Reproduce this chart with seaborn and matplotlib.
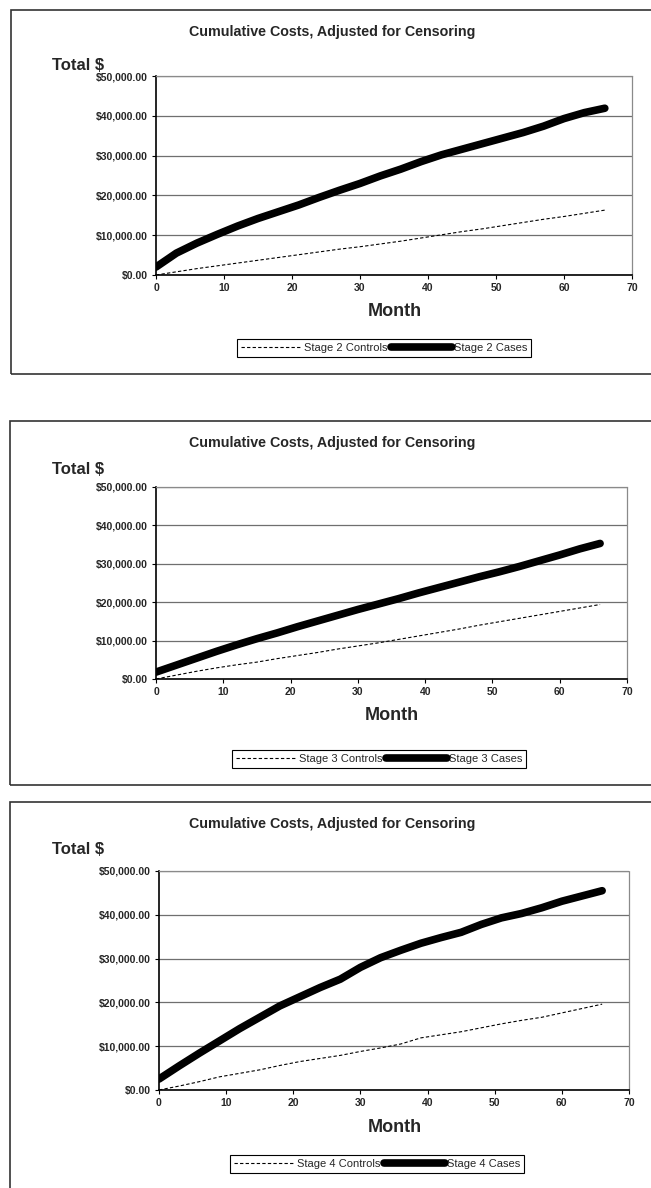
import numpy as np
import pandas as pd
import seaborn as sns
import matplotlib.pyplot as plt
from matplotlib.patches import Rectangle
from matplotlib.ticker import FuncFormatter, MultipleLocator

# values, every 3 months
months = [0, 3, 6, 9, 12, 15, 18, 21, 24, 27, 30, 33, 36, 39, 42, 45, 48, 51, 54, 57, 60, 63, 66]

stage2_cases = [2000, 5500, 8000, 10200, 12300, 14200, 15900, 17600, 19500, 21300, 23000, 24900,
                26600, 28500, 30200, 31600, 33000, 34400, 35800, 37400, 39300, 40800, 41900]
stage2_controls = [0, 800, 1600, 2300, 3000, 3700, 4400, 5100, 5800, 6500, 7100, 7800,
                   8500, 9300, 10100, 10900, 11600, 12400, 13200, 14000, 14700, 15500, 16300]

stage3_cases = [1800, 3600, 5400, 7200, 8900, 10500, 12000, 13600, 15100, 16600, 18100, 19500,
                20900, 22400, 23800, 25200, 26600, 27900, 29300, 30800, 32300, 33900, 35300]
stage3_controls = [0, 1000, 2000, 2900, 3700, 4400, 5300, 6100, 6900, 7800, 8600, 9400,
                   10300, 11200, 12100, 13000, 14000, 14900, 15800, 16700, 17600, 18500, 19400]

stage4_cases = [2500, 5500, 8400, 11200, 14000, 16600, 19200, 21300, 23400, 25300, 28000, 30200,
                31900, 33500, 34800, 36000, 37800, 39300, 40300, 41600, 43100, 44300, 45500]
stage4_controls = [0, 900, 1900, 3000, 3800, 4600, 5600, 6500, 7200, 7900, 8800, 9600,
                   10500, 11900, 12600, 13300, 14200, 15100, 15900, 16600, 17600, 18600, 19600]

stages = ["Stage 2", "Stage 3", "Stage 4"]
cases = [stage2_cases, stage3_cases, stage4_cases]
controls = [stage2_controls, stage3_controls, stage4_controls]

title = "Cumulative Costs, Adjusted for Censoring"

sns.set_style("white")
plt.rcParams["font.family"] = ["Liberation Sans", "DejaVu Sans"]

W, H = 651, 1188
fig = plt.figure(figsize=(W / 100, H / 100), dpi=100)


def fx(px):
    return px / W


def fy(py):
    return 1 - py / H


# pixel layout of each panel: outer box, axes, title, y label, x label, legend
layout = [
    dict(box=(11, 10, 374), ax=(156, 632, 76, 275), title=32, ylab=65, xlab=(395, 312), leg=(384, 348)),
    dict(box=(10, 421, 785), ax=(156, 627, 487, 679), title=443, ylab=469, xlab=(392, 715), leg=(379, 759)),
    dict(box=(10, 802, 1260), ax=(159, 629, 871, 1090), title=824, ylab=850, xlab=(395, 1128), leg=(377, 1164)),
]

for stage, cs, ct, lay in zip(stages, cases, controls, layout):
    bx, btop, bbot = lay["box"]
    fig.patches.append(Rectangle((fx(bx), fy(bbot)), fx(700 - bx), (bbot - btop) / H,
                                 transform=fig.transFigure, fill=False, edgecolor="#333333",
                                 linewidth=1.2, zorder=0))

    l, r, t, b = lay["ax"]
    ax = fig.add_axes([fx(l), fy(b), (r - l) / W, (b - t) / H])

    df = pd.DataFrame({"Month": months, "Controls": ct, "Cases": cs})
    sns.lineplot(data=df, x="Month", y="Controls", ax=ax, color="black", linewidth=0.8,
                 linestyle=(0, (3, 2)), label=f"{stage} Controls")
    sns.lineplot(data=df, x="Month", y="Cases", ax=ax, color="black", linewidth=5.5,
                 solid_capstyle="round", label=f"{stage} Cases")

    ax.set_xlim(0, 70)
    ax.set_ylim(0, 50000)
    ax.xaxis.set_major_locator(MultipleLocator(10))
    ax.yaxis.set_major_locator(MultipleLocator(10000))
    ax.yaxis.set_major_formatter(FuncFormatter(lambda v, p: f"${v:,.2f}"))
    ax.grid(axis="y", color="#6f6f6f", linewidth=0.9)
    ax.set_axisbelow(True)
    for side in ["top", "right"]:
        ax.spines[side].set_color("#8a8a8a")
        ax.spines[side].set_linestyle((0, (1, 1)))
        ax.spines[side].set_linewidth(0.9)
    for side in ["left", "bottom"]:
        ax.spines[side].set_color("black")
        ax.spines[side].set_linewidth(1.2)
    ax.tick_params(axis="both", direction="out", length=3, width=0.8, color="black",
                   labelsize=7.5, pad=3, left=True, bottom=True)
    for lab in ax.get_xticklabels() + ax.get_yticklabels():
        lab.set_fontweight("bold")
    ax.set_xlabel("")
    ax.set_ylabel("")

    fig.text(fx(332), fy(lay["title"]), title, ha="center", va="center",
             fontsize=10.3, fontweight="bold")
    fig.text(fx(52), fy(lay["ylab"]), "Total $", ha="left", va="center",
             fontsize=12, fontweight="bold")
    mx, my = lay["xlab"]
    fig.text(fx(mx), fy(my), "Month", ha="center", va="center",
             fontsize=13, fontweight="bold")

    lgx, lgy = lay["leg"]
    ax.legend(loc="center", bbox_to_anchor=(fx(lgx), fy(lgy)), bbox_transform=fig.transFigure,
              ncol=2, fontsize=8, frameon=True, fancybox=False, edgecolor="black",
              framealpha=1, handlelength=5.5, handletextpad=0.2, columnspacing=0.3,
              borderpad=0.35, borderaxespad=0)
    ax.get_legend().get_frame().set_linewidth(0.8)

fig.savefig("out.png", dpi=100)
